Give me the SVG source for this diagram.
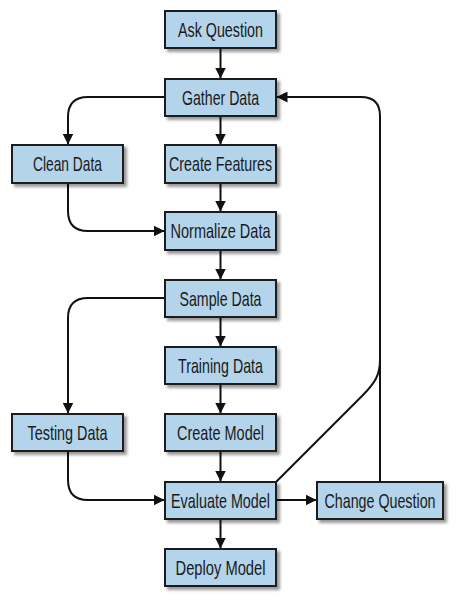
<svg xmlns="http://www.w3.org/2000/svg" width="459" height="608" viewBox="0 0 459 608">
<defs>
<filter id="sh" x="-10%" y="-20%" width="130%" height="160%">
<feDropShadow dx="3" dy="3" stdDeviation="1.8" flood-color="#000" flood-opacity="0.4"/>
</filter>
<marker id="ah" markerUnits="userSpaceOnUse" markerWidth="11" markerHeight="11" refX="10.5" refY="5.5" orient="auto" viewBox="0 0 11 11">
<path d="M0,0 L11,5.5 L0,11 Z" fill="#111"/>
</marker>
<style>
.box rect{fill:#b3d4ea;stroke:#1a1a1a;stroke-width:2;filter:url(#sh)}
.box text{font-family:"Liberation Sans",Arial,sans-serif;font-size:20px;fill:#1a1a1a;text-anchor:middle}
#connectors path{fill:none;stroke:#111;stroke-width:2}
.a{marker-end:url(#ah)}
</style>
</defs>
<g id="connectors">
<path class="a" d="M220.5,49 V78"/>
<path class="a" d="M220.5,117 V144"/>
<path class="a" d="M220.5,184 V211"/>
<path class="a" d="M220.5,251 V279"/>
<path class="a" d="M220.5,318 V346"/>
<path class="a" d="M220.5,385 V413"/>
<path class="a" d="M220.5,452 V481"/>
<path class="a" d="M220.5,520 V548"/>
<path class="a" d="M165,97 H88 Q68,97 68,117 V144"/>
<path class="a" d="M68,184 V211 Q68,231 88,231 H164"/>
<path class="a" d="M165,298 H88 Q68,298 68,318 V413"/>
<path class="a" d="M68,452 V480 Q68,500 88,500 H164"/>
<path class="a" d="M277,500 H316"/>
<path class="a" d="M380,482 V116 Q380,97 361,97 H277"/>
<path d="M276,482 L362,396 C375,383 380,375 380,360"/>
</g>
<g id="ask" class="box"><rect x="165" y="11" width="111" height="37"/><text transform="translate(220.5,36.5) scale(0.71,1)" textLength="119.7" lengthAdjust="spacingAndGlyphs">Ask Question</text></g>
<g id="gather" class="box"><rect x="165" y="79" width="111" height="37"/><text transform="translate(220.5,104.5) scale(0.71,1)" textLength="108.5" lengthAdjust="spacingAndGlyphs">Gather Data</text></g>
<g id="clean" class="box"><rect x="12" y="145" width="111" height="38"/><text transform="translate(67.5,171) scale(0.71,1)" textLength="97.2" lengthAdjust="spacingAndGlyphs">Clean Data</text></g>
<g id="features" class="box"><rect x="165" y="145" width="111" height="38"/><text transform="translate(220.5,171) scale(0.71,1)" textLength="145.1" lengthAdjust="spacingAndGlyphs">Create Features</text></g>
<g id="normalize" class="box"><rect x="165" y="212" width="111" height="38"/><text transform="translate(220.5,238) scale(0.71,1)" textLength="140.8" lengthAdjust="spacingAndGlyphs">Normalize Data</text></g>
<g id="sample" class="box"><rect x="165" y="280" width="111" height="37"/><text transform="translate(220.5,305.5) scale(0.71,1)" textLength="115.5" lengthAdjust="spacingAndGlyphs">Sample Data</text></g>
<g id="training" class="box"><rect x="165" y="347" width="111" height="37"/><text transform="translate(220.5,372.5) scale(0.71,1)" textLength="119.7" lengthAdjust="spacingAndGlyphs">Training Data</text></g>
<g id="testing" class="box"><rect x="12" y="414" width="111" height="37"/><text transform="translate(67.5,439.5) scale(0.71,1)" textLength="112.7" lengthAdjust="spacingAndGlyphs">Testing Data</text></g>
<g id="create" class="box"><rect x="165" y="414" width="111" height="37"/><text transform="translate(220.5,439.5) scale(0.71,1)" textLength="122.5" lengthAdjust="spacingAndGlyphs">Create Model</text></g>
<g id="evaluate" class="box"><rect x="165" y="482" width="111" height="37"/><text transform="translate(220.5,507.5) scale(0.71,1)" textLength="139.4" lengthAdjust="spacingAndGlyphs">Evaluate Model</text></g>
<g id="change" class="box"><rect x="317" y="482" width="126" height="37"/><text transform="translate(380,507.5) scale(0.71,1)" textLength="156.3" lengthAdjust="spacingAndGlyphs">Change Question</text></g>
<g id="deploy" class="box"><rect x="165" y="549" width="111" height="37"/><text transform="translate(220.5,574.5) scale(0.71,1)" textLength="126.8" lengthAdjust="spacingAndGlyphs">Deploy Model</text></g>
</svg>
